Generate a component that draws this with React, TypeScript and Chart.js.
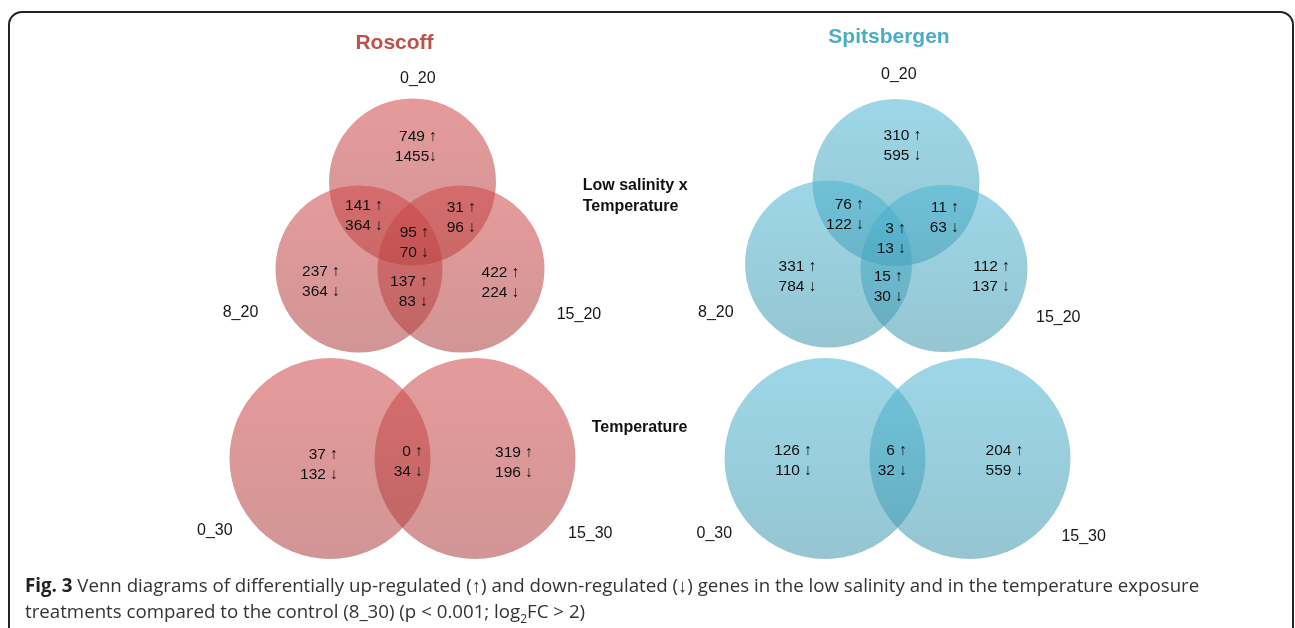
import React, { useEffect, useRef } from "react";
import { Chart, registerables } from "chart.js";

Chart.register(...registerables);

const W = 1295;
const H = 628;

// ---- data (text & counts) ----
const panelTitles = ["Roscoff", "Spitsbergen"];
const tripleSets = ["0_20", "8_20", "15_20"];
const pairSets = ["0_30", "15_30"];
const groupLabels = ["Low salinity x", "Temperature", "Temperature"];

// triple regions order: only A, A∩B, A∩C, A∩B∩C, only B, B∩C, only C
const roscoffTripleUp = [749, 141, 31, 95, 237, 137, 422];
const roscoffTripleDown = [1455, 364, 96, 70, 364, 83, 224];
const spitsTripleUp = [310, 76, 11, 3, 331, 15, 112];
const spitsTripleDown = [595, 122, 63, 13, 784, 30, 137];
// pair regions order: only A, A∩B, only B
const roscoffPairUp = [37, 0, 319];
const roscoffPairDown = [132, 34, 196];
const spitsPairUp = [126, 6, 204];
const spitsPairDown = [110, 32, 559];

// ---- layout (positions in chart units) ----
const roscoffTripleCircles = [[412.5, 182], [359, 269], [461, 269]];
const roscoffPairCircles = [[330, 458.5], [475, 458.5]];
const spitsTripleCircles = [[896, 182.5], [828.5, 264], [944, 268.5]];
const spitsPairCircles = [[825, 458.5], [970, 458.5]];
const tripleRadius = 83.5;
const pairRadius = 100.5;

const roscoffTripleAnchors = [[437, 137], [383, 206], [476, 208], [429, 233], [340, 272], [428, 282], [519.5, 273]];
const roscoffPairAnchors = [[338, 455], [423, 452], [533, 453]];
const spitsTripleAnchors = [[921.5, 136], [864, 205], [959, 208], [906, 229], [816.5, 267], [903, 277], [1010, 267]];
const spitsPairAnchors = [[812, 451], [907, 451], [1023.5, 451]];

const roscoffTripleSetPos = [[400, 83], [222.7, 317.3], [556.7, 319]];
const roscoffPairSetPos = [[197, 535], [568, 538.3]];
const spitsTripleSetPos = [[881, 79.3], [698, 317.3], [1036, 322.3]];
const spitsPairSetPos = [[696.5, 537.7], [1061.4, 540.7]];

const titlePos = [[394.5, 49.3], [889, 43.3]];
const groupPos = [[582.7, 190], [582.7, 210.5], [591.7, 431.7]];

const roscoffColors = ["rgba(208,72,72,0.55)", "rgba(172,62,62,0.55)"];
const spitsColors = ["rgba(76,182,212,0.55)", "rgba(62,150,172,0.55)"];
const titleColors = ["#c0504d", "#4bacc6"];

const FONT = "'Liberation Sans', Arial, Helvetica, sans-serif";

function circles(centers: number[][], r: number) {
  return centers.map(([x, y]) => ({ x, y, r }));
}

function gradientFill(colors: string[]) {
  return (c: any) => {
    const chart = c.chart;
    const raw = c.raw;
    if (!raw || !chart.chartArea) return colors[0];
    const py = chart.scales.y.getPixelForValue(raw.y);
    const g = chart.ctx.createLinearGradient(0, py - raw.r, 0, py + raw.r);
    g.addColorStop(0, colors[0]);
    g.addColorStop(1, colors[1]);
    return g;
  };
}

function upText(n: number) {
  return `${n} ↑`;
}
function downText(n: number) {
  return `${n}${String(n).length >= 4 ? "" : " "}↓`;
}

const labelPlugin = {
  id: "vennLabels",
  afterDatasetsDraw(chart: any) {
    const { ctx, scales } = chart;
    const px = (v: number) => scales.x.getPixelForValue(v);
    const py = (v: number) => scales.y.getPixelForValue(v);
    ctx.save();

    // titles
    ctx.font = `bold 21px ${FONT}`;
    ctx.textAlign = "center";
    ctx.textBaseline = "alphabetic";
    panelTitles.forEach((t, i) => {
      ctx.fillStyle = titleColors[i];
      ctx.fillText(t, px(titlePos[i][0]), py(titlePos[i][1]));
    });

    // group labels
    ctx.font = `bold 16px ${FONT}`;
    ctx.textAlign = "left";
    ctx.fillStyle = "#111";
    groupLabels.forEach((t, i) => {
      ctx.fillText(t, px(groupPos[i][0]), py(groupPos[i][1]));
    });

    // set names
    ctx.font = `16px ${FONT}`;
    ctx.fillStyle = "#161616";
    const sets: [string[], number[][]][] = [
      [tripleSets, roscoffTripleSetPos],
      [pairSets, roscoffPairSetPos],
      [tripleSets, spitsTripleSetPos],
      [pairSets, spitsPairSetPos],
    ];
    sets.forEach(([names, pos]) => {
      names.forEach((n, i) => ctx.fillText(n, px(pos[i][0]), py(pos[i][1])));
    });

    // region counts
    ctx.font = `15.5px ${FONT}`;
    ctx.textAlign = "right";
    ctx.textBaseline = "middle";
    ctx.fillStyle = "#111";
    const regions: [number[], number[], number[][], number][] = [
      [roscoffTripleUp, roscoffTripleDown, roscoffTripleAnchors, 19.5],
      [roscoffPairUp, roscoffPairDown, roscoffPairAnchors, 20],
      [spitsTripleUp, spitsTripleDown, spitsTripleAnchors, 20],
      [spitsPairUp, spitsPairDown, spitsPairAnchors, 20],
    ];
    regions.forEach(([up, down, anchors, gap]) => {
      up.forEach((u, i) => {
        const [ax, ay] = anchors[i];
        ctx.fillText(upText(u), px(ax), py(ay));
        ctx.fillText(downText(down[i]), px(ax), py(ay + gap));
      });
    });
    ctx.restore();
  },
};

export default function App() {
  const ref = useRef<HTMLCanvasElement | null>(null);

  useEffect(() => {
    if (!ref.current) return;
    const chart = new Chart(ref.current, {
      type: "bubble",
      data: {
        datasets: [
          { data: circles(roscoffTripleCircles, tripleRadius), backgroundColor: gradientFill(roscoffColors) as any, borderWidth: 0, clip: false as any },
          { data: circles(roscoffPairCircles, pairRadius), backgroundColor: gradientFill(roscoffColors) as any, borderWidth: 0, clip: false as any },
          { data: circles(spitsTripleCircles, tripleRadius), backgroundColor: gradientFill(spitsColors) as any, borderWidth: 0, clip: false as any },
          { data: circles(spitsPairCircles, pairRadius), backgroundColor: gradientFill(spitsColors) as any, borderWidth: 0, clip: false as any },
        ],
      },
      options: {
        responsive: false,
        animation: false,
        events: [],
        devicePixelRatio: 1,
        layout: { padding: 0, autoPadding: false },
        plugins: {
          legend: { display: false },
          tooltip: { enabled: false },
          title: { display: false },
        },
        scales: {
          x: { type: "linear", min: 0, max: W, display: false },
          y: { type: "linear", min: 0, max: H, reverse: true, display: false },
        },
      },
      plugins: [labelPlugin],
    });
    return () => chart.destroy();
  }, []);

  return (
    <div style={{ position: "fixed", left: 0, top: 0, width: W, height: H, overflow: "hidden", background: "#fff" }}>
      <div
        style={{
          position: "absolute",
          left: 8,
          top: 11,
          width: 1286,
          height: 700,
          boxSizing: "border-box",
          border: "2px solid #222",
          borderRadius: 14,
        }}
      />
      <canvas ref={ref} width={W} height={H} style={{ position: "absolute", left: 0, top: 0, width: W, height: H }} />
      <div
        style={{
          position: "absolute",
          left: 25,
          top: 572,
          fontFamily: "'Open Sans', sans-serif",
          fontSize: 18.7,
          lineHeight: "26px",
          color: "#333",
          whiteSpace: "nowrap",
        }}
      >
        <b style={{ color: "#222" }}>Fig. 3</b> Venn diagrams of differentially up-regulated (↑) and down-regulated (↓) genes in the low salinity and in the temperature exposure
        <br />
        treatments compared to the control (8_30) (p &lt; 0.001; log<sub style={{ fontSize: 12, lineHeight: 0 }}>2</sub>FC &gt; 2)
      </div>
    </div>
  );
}
